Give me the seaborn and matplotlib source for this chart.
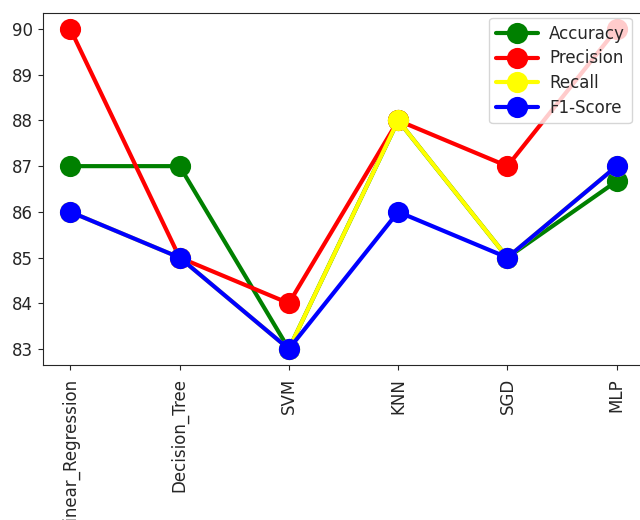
import pandas as pd
import numpy as np
import seaborn as sns
import matplotlib
matplotlib.use('Agg')
import matplotlib.pyplot as plt

models = ['Linear_Regression', 'Decision_Tree', 'SVM', 'KNN', 'SGD', 'MLP']
accuracy = [87, 87, 83, 88, 85, 86.67]
precision = [90, 85, 84, 88, 87, 90]
recall = [86, 85, 83, 88, 85, 87]
f1_score = [86, 85, 83, 86, 85, 87]

metric_names = ['Accuracy', 'Precision', 'Recall', 'F1-Score']
colors = {'Accuracy': 'green', 'Precision': 'red', 'Recall': 'yellow', 'F1-Score': 'blue'}

df = pd.DataFrame({
    'model': models * 4,
    'score': accuracy + precision + recall + f1_score,
    'metric': np.repeat(metric_names, len(models)),
})

sns.set_style('ticks')
fig = plt.figure(figsize=(6.4, 5.2), dpi=100)
ax = fig.add_axes([43 / 640, 1 - 365 / 520, 601 / 640, 352 / 520])

sns.pointplot(data=df, x='model', y='score', hue='metric', hue_order=metric_names,
              palette=colors, markersize=13, linewidth=3, ax=ax)

ax.set_xlim(-0.25, 5.25)
ax.set_ylim(82.65, 90.35)
ax.set_xlabel('')
ax.set_ylabel('')
ax.tick_params(axis='x', rotation=90, labelsize=12, pad=6)
ax.tick_params(axis='y', labelsize=12)
# legend kept at upper right, over the MLP precision point like the original
ax.legend(loc='upper right', fontsize=12, handlelength=2.5, borderaxespad=0.3,
          handletextpad=0.7, labelspacing=0.4, bbox_to_anchor=(0.988, 1.0))

plt.savefig('out.png', dpi=100)
